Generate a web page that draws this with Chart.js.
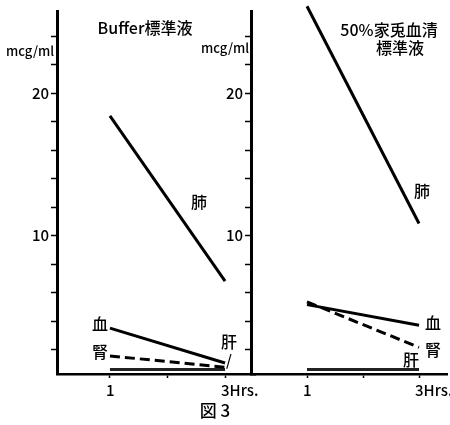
<!DOCTYPE html>
<html>
<head>
<meta charset="utf-8">
<script src="https://cdn.jsdelivr.net/npm/chart.js@4"></script>
<style>
    body { margin: 0; background: #fff; }
    #wrap { position: relative; width: 450px; height: 425px; background: #fff; }
    canvas { position: absolute; top: 0; }
</style>
</head>
<body>
<div id="wrap">
    <canvas id="bufferChart" width="260" height="425" style="left:0"></canvas>
    <canvas id="serumChart" width="250" height="425" style="left:200px"></canvas>
</div>
<script>
// ================================
// Data
// ================================
const hours = [1, 3];
const yTicks = [2, 4, 6, 8, 10, 12, 14, 16, 18, 20, 22, 24];
const yLabeled = [10, 20];
const xTicks = [1, 2, 3];
const xLabels = { 1: '1', 3: '3Hrs.' };

// Buffer standard solution
const bufLung = [18.4, 6.8];
const bufBlood = [3.5, 1.05];
const bufKidney = [1.55, 0.75];
const bufLiver = [0.6, 0.6];

// 50% rabbit serum standard solution
const serumLung = [26.1, 10.85];
const serumBlood = [5.15, 3.7];
const serumKidney = [5.35, 2.15];
const serumLiver = [0.6, 0.6];

const JP = '"Noto Sans CJK JP", "DejaVu Sans", sans-serif';

function toPoints(values) {
    return hours.map((h, i) => ({ x: h, y: values[i] }));
}

function lineSet(values, dashed, color) {
    return {
        data: toPoints(values),
        borderColor: color || '#000',
        borderWidth: 3,
        borderDash: dashed ? [10, 5] : [],
        pointRadius: 0,
        fill: false,
        clip: false
    };
}

// Helper plugin to draw free text on a chart
function textPlugin(items) {
    return {
        id: 'freeText',
        afterDraw(chart) {
            const ctx = chart.ctx;
            ctx.save();
            ctx.fillStyle = '#000';
            ctx.textAlign = 'center';
            ctx.textBaseline = 'middle';
            items.forEach(t => {
                ctx.font = t.font;
                ctx.fillText(t.text, t.x, t.y);
            });
            ctx.restore();
        }
    };
}

function makeOptions(xMin, xMax, yWidth, padRight) {
    return {
        responsive: false,
        animation: false,
        layout: { padding: { top: 11, right: padRight, left: 0, bottom: 0 } },
        plugins: { legend: { display: false }, tooltip: { enabled: false } },
        scales: {
            x: {
                type: 'linear',
                min: xMin,
                max: xMax,
                afterBuildTicks: scale => { scale.ticks = xTicks.map(v => ({ value: v })); },
                afterFit: scale => {
                    scale.height = 51;
                    scale.paddingLeft = 0;
                    scale.paddingRight = 0;
                },
                border: { color: '#000', width: 2.5 },
                grid: { drawOnChartArea: false, color: '#000', tickLength: 4, tickWidth: 1.5 },
                ticks: {
                    color: '#000',
                    align: 'start',
                    labelOffset: -4,
                    padding: 3,
                    maxRotation: 0,
                    font: { family: JP, size: 15, weight: 500 },
                    callback: value => xLabels[value] || ''
                }
            },
            y: {
                type: 'linear',
                min: 0.28,
                max: 25.77,
                afterBuildTicks: scale => { scale.ticks = yTicks.map(v => ({ value: v })); },
                afterFit: scale => { scale.width = yWidth; },
                border: { color: '#000', width: 3 },
                grid: { drawOnChartArea: false, color: '#000', tickLength: 6, tickWidth: 1.5 },
                ticks: {
                    color: '#000',
                    padding: 2,
                    font: { family: JP, size: 15, weight: 500 },
                    callback: value => yLabeled.includes(value) ? String(value) : ''
                }
            }
        }
    };
}

// Left chart: Buffer標準液
new Chart(document.getElementById('bufferChart'), {
    type: 'line',
    data: {
        datasets: [
            lineSet(bufLung),
            lineSet(bufBlood),
            lineSet(bufKidney, true),
            lineSet(bufLiver, false, '#222')
        ]
    },
    options: makeOptions(0.08, 3.52, 57, 5),
    plugins: [textPlugin([
        { text: 'mcg/ml', x: 30, y: 51, font: '500 13px ' + JP },
        { text: 'Buffer標準液', x: 145, y: 28, font: '500 16px ' + JP },
        { text: '肺', x: 199, y: 202, font: '500 16px ' + JP },
        { text: '血', x: 100, y: 324, font: '500 16px ' + JP },
        { text: '腎', x: 100, y: 352, font: '500 16px ' + JP },
        { text: '肝', x: 229, y: 342, font: '500 16px ' + JP },
        { text: '/', x: 229, y: 360, font: '500 15px ' + JP },
        { text: '図 3', x: 215, y: 411, font: '500 17px ' + JP }
    ])]
});

// Right chart: 50%家兎血清 標準液
new Chart(document.getElementById('serumChart'), {
    type: 'line',
    data: {
        datasets: [
            lineSet(serumLung),
            lineSet(serumBlood),
            lineSet(serumKidney, true),
            lineSet(serumLiver, false, '#222')
        ]
    },
    options: makeOptions(0, 3.5, 51, 3),
    plugins: [textPlugin([
        { text: 'mcg/ml', x: 25, y: 48, font: '500 13px ' + JP },
        { text: '50%家兎血清', x: 189, y: 30, font: '500 16px ' + JP },
        { text: '標準液', x: 200, y: 48, font: '500 16px ' + JP },
        { text: '肺', x: 222, y: 191, font: '500 16px ' + JP },
        { text: '血', x: 233, y: 323, font: '500 16px ' + JP },
        { text: '腎', x: 233, y: 350, font: '500 16px ' + JP },
        { text: '肝', x: 211, y: 360, font: '500 16px ' + JP }
    ])]
});
</script>
</body>
</html>
